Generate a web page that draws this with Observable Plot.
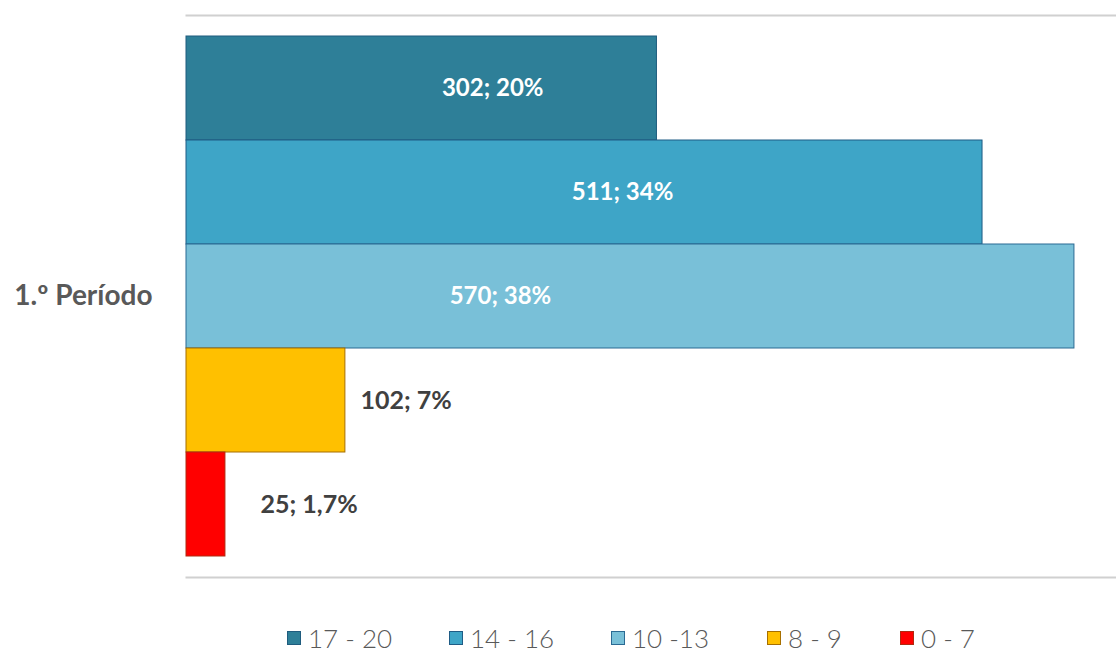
<!DOCTYPE html>
<html>
<head>
<meta charset="utf-8">
<script src="https://cdn.jsdelivr.net/npm/d3@7"></script>
<script src="https://cdn.jsdelivr.net/npm/@observablehq/plot@0.6"></script>
<style>
  html, body { margin: 0; padding: 0; background: #fff; }
  body { width: 1116px; height: 654px; overflow: hidden; font-family: Lato, "Noto Sans", sans-serif; }
  #legend { position: relative; height: 54px; }
  .item { position: absolute; top: 23px; display: flex; align-items: center; color: #595959; font-size: 26px; font-weight: 300; line-height: 30px; }
  .sw { width: 14px; height: 14px; margin-right: 7px; box-sizing: border-box; border: 1px solid; }
</style>
</head>
<body>
<div id="chart"></div>
<div id="legend"></div>
<script>
const category = "1.º Período";
const series = ["17 - 20", "14 - 16", "10 -13", "8 - 9", "0 - 7"];
const values = [302, 511, 570, 102, 25];
const labels = ["302; 20%", "511; 34%", "570; 38%", "102; 7%", "25; 1,7%"];
const colors = ["#2E7F98", "#3EA5C7", "#79C0D8", "#FFC000", "#FF0000"];
const borders = ["#1F5C7E", "#1F5C85", "#2B6A93", "#A66F00", "#B02A10"];

const data = series.map((s, i) => ({cat: category, series: s, value: values[i], label: labels[i]}));

const plot = Plot.plot({
  width: 1116,
  height: 600,
  marginLeft: 186,
  marginRight: 0,
  marginTop: 15,
  marginBottom: 23,
  style: {fontFamily: "Lato, 'Noto Sans', sans-serif", background: "#fff"},
  x: {domain: [0, 597], axis: null},
  y: {domain: series, paddingInner: 0, paddingOuter: 0.18, axis: null},
  fy: {domain: [category], padding: 0, label: null},
  color: {domain: series, range: colors},
  marks: [
    Plot.frame({anchor: "top", stroke: "#D0D0D0", strokeWidth: 2}),
    Plot.frame({anchor: "bottom", stroke: "#D0D0D0", strokeWidth: 2}),
    Plot.axisFy({anchor: "left", tickSize: 0, tickPadding: 34, fontSize: 28, fontWeight: "bold", fill: "#595959", label: null}),
    Plot.barX(data, {fy: "cat", y: "series", x: "value", fill: "series", stroke: (d, i) => borders[i], strokeWidth: 1, inset: 0}),
    Plot.text(data.filter(d => d.series === series[0]), {fy: "cat", y: "series", x: d => d.value / 2, text: "label", dx: 71, fill: "white", fontSize: 24, fontWeight: "bold"}),
    Plot.text(data.filter(d => d.series === series[1]), {fy: "cat", y: "series", x: d => d.value / 2, text: "label", dx: 38, fill: "white", fontSize: 24, fontWeight: "bold"}),
    Plot.text(data.filter(d => d.series === series[2]), {fy: "cat", y: "series", x: d => d.value / 2, text: "label", dx: -130, fill: "white", fontSize: 24, fontWeight: "bold"}),
    Plot.text(data.filter(d => d.series === series[3]), {fy: "cat", y: "series", x: "value", text: "label", dx: 15, textAnchor: "start", fill: "#404040", fontSize: 25, fontWeight: "bold"}),
    Plot.text(data.filter(d => d.series === series[4]), {fy: "cat", y: "series", x: "value", text: "label", dx: 35, textAnchor: "start", fill: "#404040", fontSize: 25, fontWeight: "bold"})
  ]
});
document.getElementById("chart").appendChild(plot);

const legendX = [287, 449, 611, 767, 900];
const legend = document.getElementById("legend");
series.forEach((s, i) => {
  const item = document.createElement("div");
  item.className = "item";
  item.style.left = legendX[i] + "px";
  const sw = document.createElement("span");
  sw.className = "sw";
  sw.style.background = colors[i];
  sw.style.borderColor = borders[i];
  const t = document.createElement("span");
  t.textContent = s;
  item.appendChild(sw);
  item.appendChild(t);
  legend.appendChild(item);
});
</script>
</body>
</html>
